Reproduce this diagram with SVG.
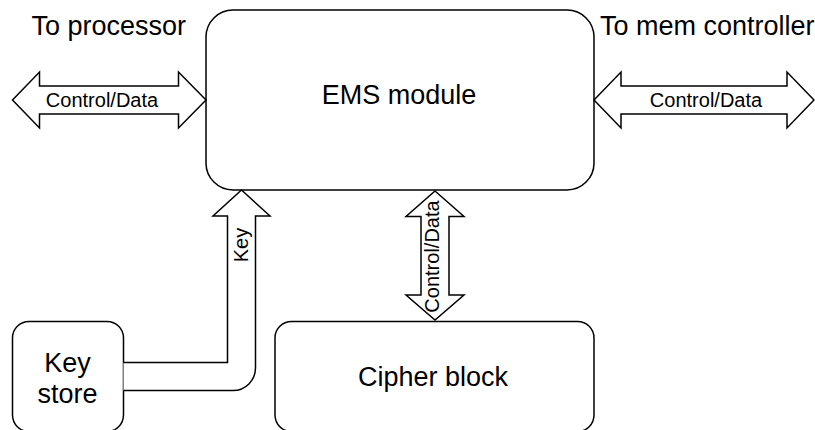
<svg xmlns="http://www.w3.org/2000/svg" width="815" height="430" viewBox="0 0 815 430">
  <style>
    .box { fill: #ffffff; stroke: #000000; stroke-width: 1.5; }
    .arrow { fill: #ffffff; stroke: #000000; stroke-width: 1.5; stroke-linejoin: miter; }
    .big { font-family: "Liberation Sans", Arial, sans-serif; font-size: 27px; fill: #000000; }
    .small { font-family: "Liberation Sans", Arial, sans-serif; font-size: 20px; fill: #000000; }
  </style>
  <rect width="815" height="430" fill="#ffffff"/>

  <!-- edge labels at the top -->
  <text class="big" x="31.5" y="34.5">To processor</text>
  <text class="big" x="600" y="34.5">To mem controller</text>

  <!-- nodes -->
  <g id="ems-module">
    <rect class="box" x="206" y="10" width="388" height="180" rx="27" ry="27"/>
    <text class="big" x="399" y="104" text-anchor="middle">EMS module</text>
  </g>
  <g id="key-store">
    <rect class="box" x="12.5" y="321.5" width="111" height="110" rx="16.5" ry="16.5"/>
    <text class="big" x="67.5" y="372" text-anchor="middle">Key</text>
    <text class="big" x="67.5" y="403" text-anchor="middle">store</text>
  </g>
  <g id="cipher-block">
    <rect class="box" x="275" y="321.5" width="319" height="110" rx="16.5" ry="16.5"/>
    <text class="big" x="433" y="386" text-anchor="middle">Cipher block</text>
  </g>

  <!-- connectors (wide double/single arrows) -->
  <g id="connectors">
    <g id="proc-link">
      <polygon class="arrow" points="12.5,100 39.5,72 39.5,86 178.5,86 178.5,72 206,100 178.5,128 178.5,114 39.5,114 39.5,128"/>
      <text class="small" x="102" y="107" text-anchor="middle">Control/Data</text>
    </g>
    <g id="mem-link">
      <polygon class="arrow" points="594,100 621,72 621,86 787,86 787,72 814,100 787,128 787,114 621,114 621,128"/>
      <text class="small" x="706" y="107" text-anchor="middle">Control/Data</text>
    </g>
    <g id="cipher-link">
      <polygon class="arrow" points="435,191 464,216.5 449,216.5 449,295 464,295 435,320 406,295 421,295 421,216.5 406,216.5"/>
      <text class="small" x="439" y="256.5" text-anchor="middle" transform="rotate(-90 439 256.5)">Control/Data</text>
    </g>
    <g id="key-link">
      <path class="arrow" d="M123.5,362.5 H227.5 V216 H213 L241.5,190 L270,216 H255.5 V368 A22.5,22.5 0 0 1 233,390.5 H123.5"/>
      <text class="small" x="248" y="245" text-anchor="middle" transform="rotate(-90 248 245)">Key</text>
    </g>
  </g>
</svg>
